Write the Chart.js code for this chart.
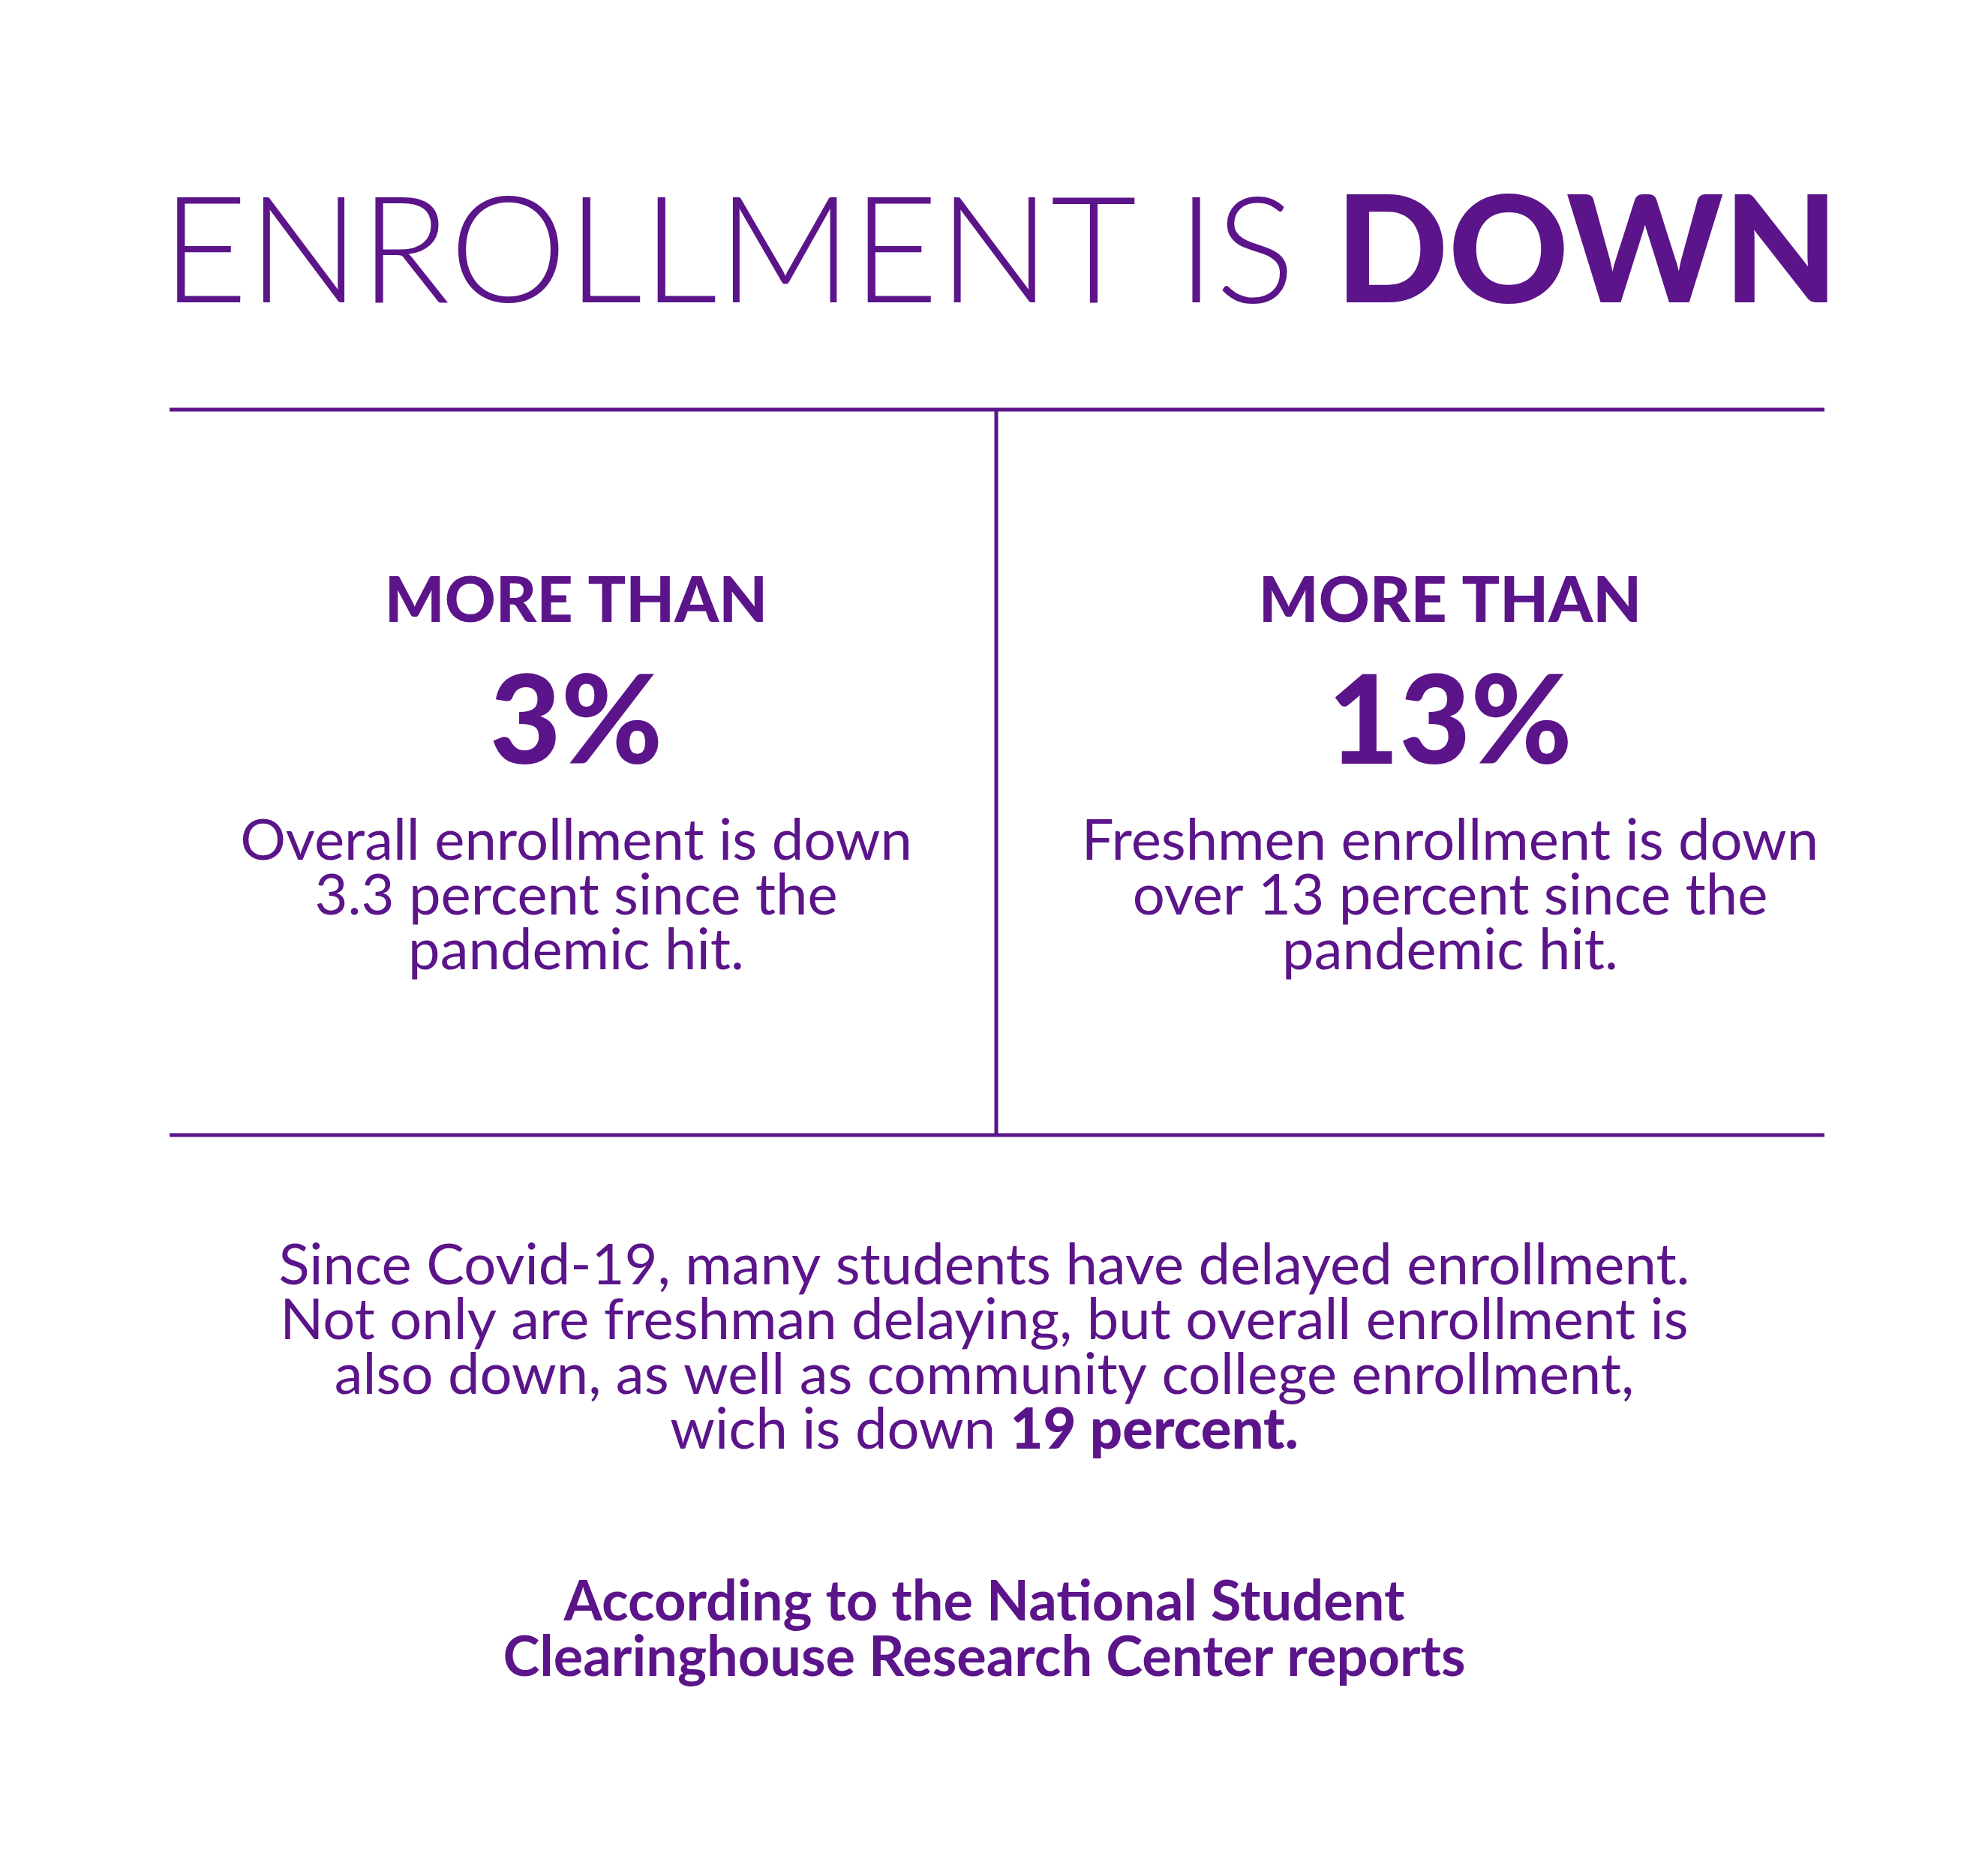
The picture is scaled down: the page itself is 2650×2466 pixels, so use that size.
<!DOCTYPE html>
<html><head><meta charset="utf-8">
<script src="https://cdn.jsdelivr.net/npm/chart.js@4"></script>
<style>html,body{margin:0;padding:0;background:#fff}#wrap{width:2650px;height:2466px}</style>
</head><body><div id="wrap"><canvas id="c"></canvas></div>
<script>
const categories = ["Overall enrollment", "Freshmen enrollment"];
const values = [3, 13];
const headers = ["MORE THAN", "MORE THAN"];
const descriptions = [
  ["Overall enrollment is down", "3.3 percent since the", "pandemic hit."],
  ["Freshmen enrollment is down", "over 13 percent since the", "pandemic hit."]
];
const paragraph = [
  "Since Covid-19, many students have delayed enrollment.",
  "Not only are freshman delaying, but overall enrollment is",
  "also down, as well as community college enrollment,"
];
const paragraphLast = ["wich is down ", "19 percent."];
const source = ["According to the National Student", "Clearinghouse Research Center reports"];
const PURPLE = "#5b1489";
const F = "Lato, 'Noto Sans', sans-serif";

const infographic = {
  id: "infographic",
  afterDraw(chart) {
    const ctx = chart.ctx;
    ctx.save();
    ctx.fillStyle = PURPLE; ctx.strokeStyle = PURPLE;
    ctx.textBaseline = "alphabetic"; ctx.textAlign = "left";
    // title
    const t1 = "ENROLLMENT IS ";
    ctx.font = "300 198px " + F; const w1 = ctx.measureText(t1).width;
    ctx.font = "900 198px " + F; const w2 = ctx.measureText("DOWN").width;
    let x0 = 1333 - (w1 + w2) / 2;
    ctx.font = "300 198px " + F; ctx.fillText(t1, x0, 403);
    ctx.font = "900 198px " + F; ctx.fillText("DOWN", x0 + w1, 403);
    // lines
    ctx.lineWidth = 5;
    ctx.beginPath();
    ctx.moveTo(226, 546); ctx.lineTo(2432, 546);
    ctx.moveTo(226, 1513); ctx.lineTo(2432, 1513);
    ctx.moveTo(1328, 546); ctx.lineTo(1328, 1513);
    ctx.stroke();
    ctx.textAlign = "center";
    const cx = [768, 1933];
    categories.forEach((c, i) => {
      ctx.font = "900 84px " + F;
      ctx.fillText(headers[i], cx[i], 829);
      ctx.font = "900 164px " + F;
      ctx.fillText(values[i] + "%", cx[i], 1018);
      ctx.font = "400 76px " + F;
      descriptions[i].forEach((l, j) => ctx.fillText(l, cx[i], 1146 + j * 73));
    });
    ctx.font = "400 76px " + F;
    paragraph.forEach((l, j) => ctx.fillText(l, 1312, 1712 + j * 73));
    ctx.textAlign = "left";
    const a = ctx.measureText(paragraphLast[0]).width;
    ctx.font = "900 76px " + F; const b = ctx.measureText(paragraphLast[1]).width;
    const px = 1312 - (a + b) / 2;
    ctx.font = "400 76px " + F; ctx.fillText(paragraphLast[0], px, 1931);
    ctx.font = "900 76px " + F; ctx.fillText(paragraphLast[1], px + a, 1931);
    ctx.textAlign = "center";
    ctx.font = "700 74px " + F;
    source.forEach((l, j) => ctx.fillText(l, 1312, 2160 + j * 74));
    ctx.restore();
  }
};

new Chart(document.getElementById("c"), {
  type: "bar",
  data: { labels: categories, datasets: [{ data: values, backgroundColor: "rgba(0,0,0,0)", borderWidth: 0 }] },
  options: {
    responsive: true, maintainAspectRatio: false, animation: false,
    plugins: { legend: { display: false }, tooltip: { enabled: false } },
    scales: { x: { display: false }, y: { display: false } }
  },
  plugins: [infographic]
});
</script></body></html>
